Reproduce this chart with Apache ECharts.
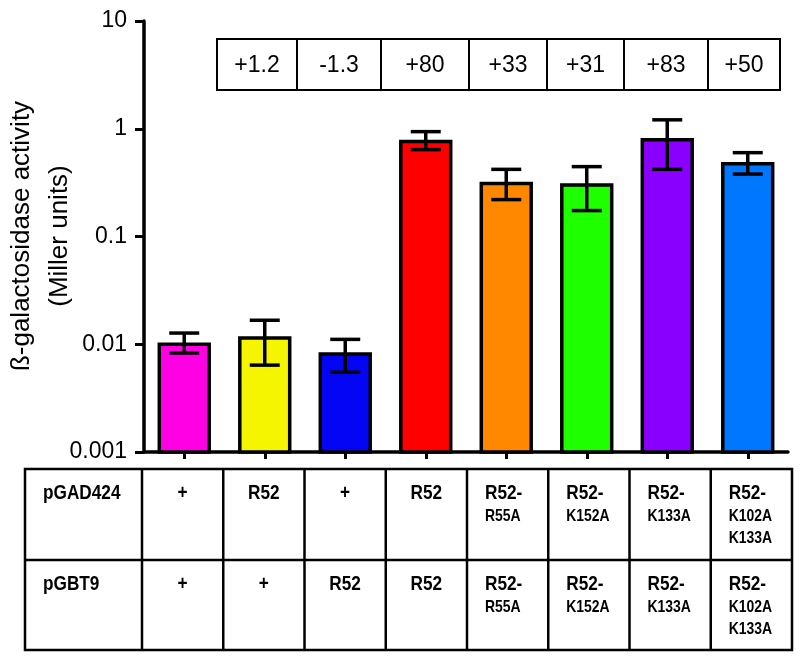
<!DOCTYPE html>
<html>
<head>
<meta charset="utf-8">
<script src="https://cdn.jsdelivr.net/npm/echarts@6/dist/echarts.min.js"></script>
<style>
  html, body { margin: 0; padding: 0; background: #fff; }
  #main { width: 800px; height: 657px; }
</style>
</head>
<body>
<div id="main"></div>
<script>
// beta-galactosidase activity (Miller units), log scale
var activity = [0.0100, 0.0114, 0.0081, 0.76, 0.31, 0.30, 0.79, 0.474];
var errLow = [0.0083, 0.0064, 0.0055, 0.64, 0.22, 0.174, 0.42, 0.38];
var errHigh = [0.0127, 0.0167, 0.0111, 0.94, 0.42, 0.445, 1.21, 0.60];
var foldLabels = ['+1.2', '-1.3', '+80', '+33', '+31', '+83', '+50'];
var yTicks = [0.001, 0.01, 0.1, 1, 10];
var yTitle = ['ß-galactosidase activity', '(Miller units)'];
var rowNames = ['pGAD424', 'pGBT9'];
var gad = [['+'], ['R52'], ['+'], ['R52'], ['R52-', 'R55A'], ['R52-', 'K152A'], ['R52-', 'K133A'], ['R52-', 'K102A', 'K133A']];
var gbt = [['+'], ['+'], ['R52'], ['R52'], ['R52-', 'R55A'], ['R52-', 'K152A'], ['R52-', 'K133A'], ['R52-', 'K102A', 'K133A']];

var barColors = ['#ff00e4', '#f5f500', '#0505f5', '#ff0000', '#ff8800', '#1eff00', '#8a00ff', '#0077ff'];

// layout
var foldEdges = [217, 297, 381, 469, 547, 624, 708, 780];
var foldTop = 39, foldBottom = 90;
var tblLeft = 25, tblFirst = 142, tblColW = 81.25;
var rowTops = [469, 560], tblBottom = 650;
var titleX = [22, 60], titleY = 236;
var sans = "'Liberation Sans', Arial, sans-serif";
var squeeze = 0.82; // table font looks condensed

var cats = activity.map(function (v, i) { return 'c' + i; });
var data = activity.map(function (v, i) { return [i, v, errLow[i], errHigh[i]]; });

function label(t, x, y, size, align) {
  return {
    type: 'text', x: x, y: y, scaleX: squeeze,
    style: { text: t, x: 0, y: 0, font: 'bold ' + size + 'px ' + sans, fill: '#000', align: align, verticalAlign: 'middle' }
  };
}

var graphics = [];
// y axis title, two rotated lines
yTitle.forEach(function (t, k) {
  graphics.push({
    type: 'text', x: titleX[k], y: titleY, rotation: Math.PI / 2,
    style: { text: t, x: 0, y: 0, font: '26px ' + sans, fill: '#000', align: 'center', verticalAlign: 'middle' }
  });
});

// fold-change boxes
graphics.push({
  type: 'rect',
  shape: { x: foldEdges[0], y: foldTop, width: foldEdges[foldEdges.length - 1] - foldEdges[0], height: foldBottom - foldTop },
  style: { fill: '#fff', stroke: '#000', lineWidth: 2 }
});
for (var i = 0; i < foldLabels.length; i++) {
  if (i > 0) {
    graphics.push({ type: 'line', shape: { x1: foldEdges[i], y1: foldTop, x2: foldEdges[i], y2: foldBottom }, style: { stroke: '#000', lineWidth: 2 } });
  }
  graphics.push({
    type: 'text',
    style: {
      text: foldLabels[i], x: (foldEdges[i] + foldEdges[i + 1]) / 2, y: (foldTop + foldBottom) / 2 + 1,
      font: '23px ' + sans, fill: '#000', align: 'center', verticalAlign: 'middle'
    }
  });
}

// table under the axis
var tblRight = tblFirst + tblColW * cats.length;
graphics.push({
  type: 'rect',
  shape: { x: tblLeft, y: rowTops[0], width: tblRight - tblLeft, height: tblBottom - rowTops[0] },
  style: { fill: 'none', stroke: '#000', lineWidth: 2.5 }
});
graphics.push({ type: 'line', shape: { x1: tblLeft, y1: rowTops[1], x2: tblRight, y2: rowTops[1] }, style: { stroke: '#000', lineWidth: 2.5 } });
for (var c = 0; c <= cats.length - 1; c++) {
  var xl = tblFirst + tblColW * c;
  graphics.push({ type: 'line', shape: { x1: xl, y1: rowTops[0], x2: xl, y2: tblBottom }, style: { stroke: '#000', lineWidth: 2.5 } });
}
[gad, gbt].forEach(function (row, r) {
  var top = rowTops[r];
  graphics.push(label(rowNames[r], 43, top + 24, 21, 'left'));
  row.forEach(function (lines, c) {
    var xl = tblFirst + tblColW * c;
    if (lines.length === 1) {
      graphics.push(label(lines[0], xl + tblColW / 2, top + 24, 21, 'center'));
    } else {
      lines.forEach(function (t, k) {
        graphics.push(label(t, xl + 18, k === 0 ? top + 24 : top + 25 + 22 * k, k === 0 ? 21 : 17, 'left'));
      });
    }
  });
});

var chart = echarts.init(document.getElementById('main'));
chart.setOption({
  animation: false,
  backgroundColor: '#fff',
  grid: { left: 144, right: 12, top: 21, bottom: 205, containLabel: false, outerBoundsMode: 'none' },
  xAxis: {
    type: 'category',
    data: cats,
    axisLine: { lineStyle: { color: '#000', width: 3.5 } },
    axisTick: { show: true, alignWithLabel: true, length: 7, lineStyle: { color: '#000', width: 3 } },
    axisLabel: { show: false },
    splitLine: { show: false }
  },
  yAxis: {
    type: 'log',
    logBase: 10,
    min: yTicks[0],
    max: yTicks[yTicks.length - 1],
    axisLine: { show: true, lineStyle: { color: '#000', width: 3.5 } },
    axisTick: { show: true, length: 9, lineStyle: { color: '#000', width: 3 } },
    axisLabel: {
      margin: 17, fontSize: 23, fontFamily: sans, color: '#000',
      formatter: function (v) { return String(+v.toPrecision(1)); }
    },
    splitLine: { show: false }
  },
  series: [{
    type: 'custom',
    data: data,
    encode: { x: 0, y: 1 },
    renderItem: function (params, api) {
      var i = api.value(0);
      var top = api.coord([i, api.value(1)]);
      var base = api.coord([i, yTicks[0]]);
      var lo = api.coord([i, api.value(2)]);
      var hi = api.coord([i, api.value(3)]);
      var w = api.size([1, 0])[0] * 0.62;
      var cap = 15;
      var ln = { stroke: '#000', lineWidth: 3.5 };
      return {
        type: 'group',
        children: [
          { type: 'rect', shape: { x: top[0] - w / 2, y: top[1], width: w, height: base[1] - top[1] }, style: { fill: barColors[i], stroke: '#000', lineWidth: 3.5 } },
          { type: 'line', shape: { x1: top[0], y1: hi[1], x2: top[0], y2: lo[1] }, style: ln },
          { type: 'line', shape: { x1: top[0] - cap, y1: hi[1], x2: top[0] + cap, y2: hi[1] }, style: ln },
          { type: 'line', shape: { x1: top[0] - cap, y1: lo[1], x2: top[0] + cap, y2: lo[1] }, style: ln }
        ]
      };
    }
  }],
  graphic: graphics
});
</script>
</body>
</html>
